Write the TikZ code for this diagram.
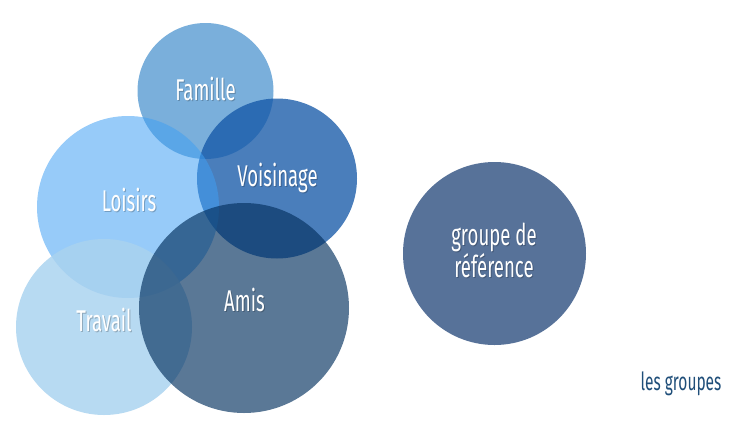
\documentclass[tikz,border=0pt]{standalone}
\usepackage{fontspec}
\setmainfont{Fira Sans}[FakeStretch=0.62]
\definecolor{cFam}{RGB}{122,175,219}
\definecolor{cVoi}{RGB}{20,87,167}
\definecolor{cLoi}{RGB}{63,159,243}
\definecolor{cTra}{RGB}{169,210,239}
\definecolor{cAmi}{RGB}{5,50,96}
\definecolor{cGrp}{RGB}{87,114,153}
\definecolor{cLab}{RGB}{31,78,121}
\tikzset{
  bubble/.style={circle, inner sep=0pt, text opacity=1},
  lbl/.style={text=white, font=\fontsize{30}{27}\selectfont, anchor=base, inner sep=0pt, align=center},
  shadowlbl/.style={text=black, text opacity=0.22, font=\fontsize{30}{27}\selectfont, anchor=base, inner sep=0pt, align=center}
}
\begin{document}
\begin{tikzpicture}[x=1pt,y=-1pt]
\useasboundingbox (0,0) rectangle (750,421);
\node[bubble, fill=cFam, minimum size=136pt] (fam) at (205.5,91) {};
\node[bubble, fill=cVoi, fill opacity=0.77, minimum size=160pt] (voi) at (277,178.5) {};
\node[bubble, fill=cLoi, fill opacity=0.54, minimum size=182pt] (loi) at (128,207) {};
\node[bubble, fill=cTra, fill opacity=0.83, minimum size=176pt] (tra) at (104,327) {};
\node[bubble, fill=cAmi, fill opacity=0.66, minimum size=210pt] (ami) at (244,308) {};
\node[circle, inner sep=0pt, fill=cGrp, minimum size=183pt] (grp) at (494.5,253.5) {};
% label shadows
\node[shadowlbl] (sfam) at (206.5,101) {Famille};
\node[shadowlbl] (svoi) at (278.5,187.7) {Voisinage};
\node[shadowlbl] (sloi) at (130,212) {Loisirs};
\node[shadowlbl] (stra) at (105,332) {Travail};
\node[shadowlbl] (sami) at (245.5,312.7) {Amis};
\node[shadowlbl] (sgrp) at (495,278) {groupe de\\référence};
% labels
\node[lbl] (tfam) at (205.5,100) {Famille};
\node[lbl] (tvoi) at (277.5,186.7) {Voisinage};
\node[lbl] (tloi) at (129,211) {Loisirs};
\node[lbl] (ttra) at (104,331) {Travail};
\node[lbl] (tami) at (244.5,311.7) {Amis};
\node[lbl] (tgrp) at (494,277) {groupe de\\référence};
\node[text=cLab, font=\fontsize{25}{28}\selectfont, anchor=base, inner sep=0pt] (les) at (681,390) {les groupes};
\end{tikzpicture}
\end{document}
